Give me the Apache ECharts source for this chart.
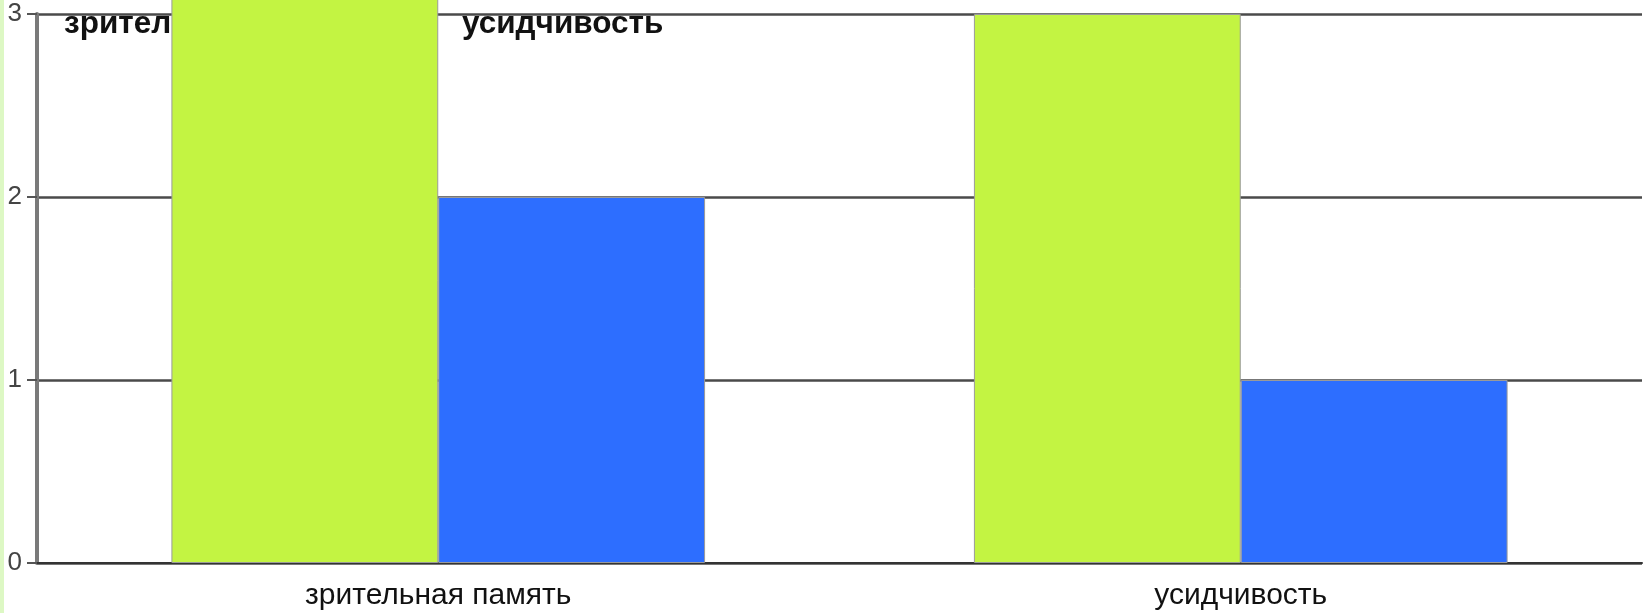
<!DOCTYPE html>
<html>
<head>
<meta charset="utf-8">
<script src="https://cdn.jsdelivr.net/npm/echarts@6/dist/echarts.min.js"></script>
<style>
  html, body { margin: 0; padding: 0; background: #fff; }
  #strip { position: absolute; left: 0; top: 0; width: 4px; height: 613px; background: #ddf8c4; z-index: 2; }
  #chart { width: 1643px; height: 613px; }
</style>
</head>
<body>
<div id="strip"></div>
<div id="chart"></div>
<script>
// данные диаграммы
var categories = ["зрительная память", "усидчивость"];
var seriesNames = ["зрительная память", "усидчивость"];
var greenValues = [4, 3];
var blueValues = [2, 1];
var yMin = 0, yMax = 3, yStep = 1;

var myChart = echarts.init(document.getElementById("chart"));
var font = "'Liberation Sans', Arial, sans-serif";
var legendText = { fontSize: 31.5, fontWeight: "bold", color: "#111", fontFamily: font };
var option = {
  animation: false,
  grid: { left: 37, right: 1, top: 14, bottom: 50 },
  legend: [
    {
      data: [seriesNames[0]], left: 58, top: 8, z: 1, padding: 0,
      itemWidth: 0, itemHeight: 0, selectedMode: false,
      textStyle: legendText
    },
    {
      data: [seriesNames[1]], left: 456, top: 8, z: 1, padding: 0,
      itemWidth: 0, itemHeight: 0, selectedMode: false,
      textStyle: legendText
    }
  ],
  xAxis: {
    type: "category",
    data: categories,
    axisLine: { lineStyle: { color: "#333", width: 2 } },
    axisTick: { length: 8, lineStyle: { color: "#444", width: 2 } },
    axisLabel: { fontSize: 30, color: "#111", margin: 18, fontFamily: font }
  },
  yAxis: {
    type: "value",
    min: yMin, max: yMax, interval: yStep,
    axisLine: { show: true, lineStyle: { color: "#7a7a7a", width: 4 } },
    axisTick: { show: true, length: 10, lineStyle: { color: "#555", width: 2 } },
    axisLabel: { fontSize: 26, color: "#444", margin: 15, fontFamily: font },
    splitLine: { lineStyle: { color: "#4a4a4a", width: 2.5 } }
  },
  series: [
    {
      name: seriesNames[0],
      type: "bar",
      clip: false,
      barGap: "0%",
      barCategoryGap: "33.5%",
      itemStyle: { color: "#c3f442", borderColor: "#9a9a9a", borderWidth: 1 },
      data: greenValues
    },
    {
      name: seriesNames[1],
      type: "bar",
      clip: false,
      itemStyle: { color: "#2d6eff", borderColor: "#9a9a9a", borderWidth: 1 },
      data: blueValues
    }
  ]
};
myChart.setOption(option);
</script>
</body>
</html>
